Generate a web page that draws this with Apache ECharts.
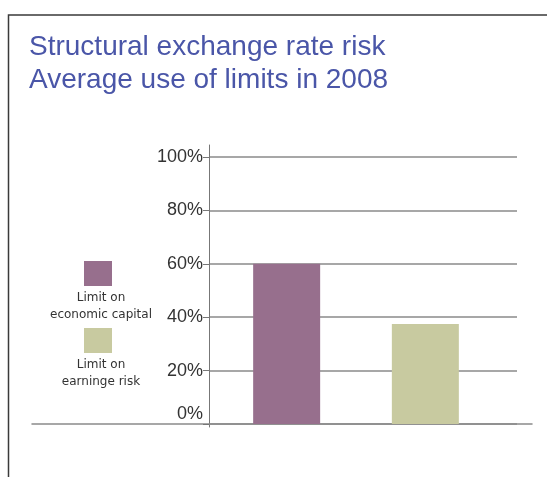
<!DOCTYPE html>
<html>
<head>
<meta charset="utf-8">
<script src="https://cdn.jsdelivr.net/npm/echarts@6/dist/echarts.min.js"></script>
<style>
  html, body { margin: 0; padding: 0; background: #fff; }
  #main { width: 547px; height: 477px; }
</style>
</head>
<body>
<div id="main"></div>
<script>
// 类目
var categories = ['2008'];
// 系列名称(图例)
var seriesNames = ['Limit on\neconomic capital', 'Limit on\nearninge risk'];
// 系列数据 (%)
var economicCapital = [60];
var earningsRisk = [37.5];
// y轴刻度
var yTicks = [0, 20, 40, 60, 80, 100];

var purple = '#976f8d';
var green = '#c8caa0';
var labelFont = 'Liberation Sans, Arial, sans-serif';

var chart = echarts.init(document.getElementById('main'));

chart.setOption({
  animation: false,
  // 标题
  title: {
    text: 'Structural exchange rate risk\nAverage use of limits in 2008',
    left: 29,
    top: 30.5,
    padding: 0,
    textStyle: {
      fontFamily: labelFont,
      fontSize: 28,
      fontWeight: 'normal',
      lineHeight: 33,
      color: '#4a56a8'
    }
  },
  // 图例: 只画色块, 文字在下面用 graphic 画
  legend: {
    orient: 'vertical',
    left: 84,
    top: 261,
    padding: 0,
    icon: 'rect',
    itemWidth: 28,
    itemHeight: 25,
    itemGap: 42,
    selectedMode: false,
    data: seriesNames,
    formatter: function () { return ''; },
    textStyle: { fontSize: 1 }
  },
  grid: [
    // 网格线 + 刻度标签
    { left: 209, right: 30, top: 157, bottom: 53 },
    // 柱子 + y轴线
    { left: 209, right: 44, top: 145, bottom: 50 },
    // 底部基线
    { left: 32, right: 15, top: 145, bottom: 53 }
  ],
  xAxis: [
    { gridIndex: 0, type: 'category', data: categories, show: false },
    { gridIndex: 1, type: 'category', data: categories, show: false },
    {
      gridIndex: 2,
      type: 'category',
      data: categories,
      axisLine: { lineStyle: { color: '#8a8a8a', width: 1.5 } },
      axisTick: { show: false },
      axisLabel: { show: false }
    }
  ],
  yAxis: [
    {
      gridIndex: 0,
      type: 'value',
      min: yTicks[0],
      max: yTicks[yTicks.length - 1],
      interval: 20,
      axisLine: { show: false },
      axisTick: { show: true, inside: false, length: 6, lineStyle: { color: '#777' } },
      splitLine: { show: true, lineStyle: { color: '#8a8a8a', width: 1.5 } },
      axisLabel: {
        margin: 6,
        fontFamily: labelFont,
        fontSize: 18,
        color: '#333',
        formatter: function (v) {
          return v === 0 ? '{z|' + v + '%}' : v + '%';
        },
        rich: {
          z: { padding: [0, 0, 19, 0], fontFamily: labelFont, fontSize: 18, color: '#333' }
        }
      }
    },
    {
      gridIndex: 1,
      type: 'value',
      min: -1.1,
      max: 104.5,
      axisLine: { show: true, lineStyle: { color: '#777', width: 1 } },
      axisTick: { show: false },
      axisLabel: { show: false },
      splitLine: { show: false }
    },
    { gridIndex: 2, type: 'value', show: false }
  ],
  graphic: [
    // 外框
    {
      type: 'rect',
      silent: true,
      shape: { x: 8.5, y: 15, width: 600, height: 500 },
      style: { fill: 'none', stroke: '#3a3a3a', lineWidth: 1.5 }
    },
    {
      type: 'text',
      x: 101,
      y: 289.5,
      style: {
        text: seriesNames[0],
        align: 'center',
        verticalAlign: 'top',
        lineHeight: 17,
        fontSize: 12,
        fontFamily: 'DejaVu Sans',
        fill: '#333'
      }
    },
    {
      type: 'text',
      x: 101,
      y: 356.5,
      style: {
        text: seriesNames[1],
        align: 'center',
        verticalAlign: 'top',
        lineHeight: 17,
        fontSize: 12,
        fontFamily: 'DejaVu Sans',
        fill: '#333'
      }
    }
  ],
  series: [
    {
      name: seriesNames[0],
      type: 'bar',
      xAxisIndex: 1,
      yAxisIndex: 1,
      data: economicCapital,
      barWidth: 67,
      barGap: '107%',
      itemStyle: { color: purple }
    },
    {
      name: seriesNames[1],
      type: 'bar',
      xAxisIndex: 1,
      yAxisIndex: 1,
      data: earningsRisk,
      barWidth: 67,
      barGap: '107%',
      itemStyle: { color: green }
    }
  ]
});
</script>
</body>
</html>
